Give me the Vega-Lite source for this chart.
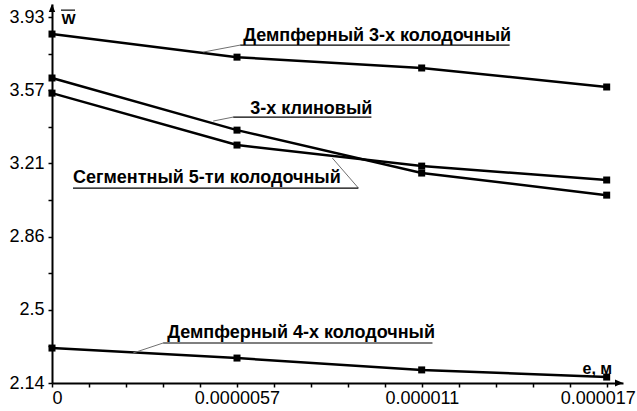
{
  "$schema": "https://vega.github.io/schema/vega-lite/v6.json",
  "width": 571,
  "height": 379,
  "autosize": {"type": "none"},
  "padding": {"left": 52, "top": 4, "right": 14, "bottom": 28},
  "background": "white",
  "config": {
    "view": {"stroke": null},
    "axis": {
      "grid": false,
      "domainColor": "black",
      "domainWidth": 2,
      "tickColor": "black",
      "tickWidth": 1.5,
      "tickSize": 4,
      "labelColor": "black",
      "labelFont": "Liberation Sans",
      "labelFontSize": 18,
      "titleColor": "black",
      "titleFont": "Liberation Sans",
      "titleFontWeight": "bold",
      "titleFontSize": 16
    }
  },
  "datasets": {
    "series": [
      {"s": "Демпферный 3-х колодочный", "x": 0, "y": 3.847},
      {"s": "Демпферный 3-х колодочный", "x": 0.00000567, "y": 3.734},
      {"s": "Демпферный 3-х колодочный", "x": 0.00001133, "y": 3.681},
      {"s": "Демпферный 3-х колодочный", "x": 0.000017, "y": 3.588},
      {"s": "3-х клиновый", "x": 0, "y": 3.632},
      {"s": "3-х клиновый", "x": 0.00000567, "y": 3.377},
      {"s": "3-х клиновый", "x": 0.00001133, "y": 3.167},
      {"s": "3-х клиновый", "x": 0.000017, "y": 3.059},
      {"s": "Сегментный 5-ти колодочный", "x": 0, "y": 3.558},
      {"s": "Сегментный 5-ти колодочный", "x": 0.00000567, "y": 3.304},
      {"s": "Сегментный 5-ти колодочный", "x": 0.00001133, "y": 3.201},
      {"s": "Сегментный 5-ти колодочный", "x": 0.000017, "y": 3.133},
      {"s": "Демпферный 4-х колодочный", "x": 0, "y": 2.311},
      {"s": "Демпферный 4-х колодочный", "x": 0.00000567, "y": 2.262},
      {"s": "Демпферный 4-х колодочный", "x": 0.00001133, "y": 2.204},
      {"s": "Демпферный 4-х колодочный", "x": 0.000017, "y": 2.169}
    ],
    "notes": [
      {"label": "Демпферный 3-х колодочный", "x": 0.000005861, "y": 3.8126},
      {"label": "3-х клиновый", "x": 0.000006076, "y": 3.4556},
      {"label": "Сегментный 5-ти колодочный", "x": 0.000000644, "y": 3.118},
      {"label": "Демпферный 4-х колодочный", "x": 0.000003529, "y": 2.36}
    ],
    "leaders": [
      {"x": 0.000004634, "y": 3.7588, "x2": 0.000005769, "y2": 3.793},
      {"x": 0.00000494, "y": 3.4214, "x2": 0.000005554, "y2": 3.4409},
      {"x": 0.00000939, "y": 3.0937, "x2": 0.000008592, "y2": 3.2404},
      {"x": 0.000002486, "y": 2.2867, "x2": 0.000003406, "y2": 2.3356}
    ],
    "underlines": [
      {"x": 0.000005769, "y": 3.793, "x2": 0.000014024, "y2": 3.793},
      {"x": 0.000005554, "y": 3.4409, "x2": 0.000009789, "y2": 3.4409},
      {"x": 0.000000644, "y": 3.0937, "x2": 0.00000939, "y2": 3.0937},
      {"x": 0.000003406, "y": 2.3356, "x2": 0.000011661, "y2": 2.3356},
      {"x": 0.000000276, "y": 3.964, "x2": 0.000000706, "y2": 3.964}
    ],
    "arrowUp": [{"x": 0, "y": 3.994}],
    "arrowRight": [{"x": 0.0000175, "y": 2.14}]
  },
  "encoding": {
    "x": {
      "field": "x",
      "type": "quantitative",
      "scale": {"domain": [0, 0.0000175], "nice": false, "zero": false},
      "axis": {
        "title": "е, м",
        "titleX": 530,
        "titleY": -10,
        "titleAlign": "left",
        "titleBaseline": "alphabetic",
        "values": [0, 0.0000011333, 0.0000022667, 0.0000034, 0.0000045333, 0.0000056667, 0.0000068, 0.0000079333, 0.0000090667, 0.0000102, 0.0000113333, 0.0000124667, 0.0000136, 0.0000147333, 0.0000158667, 0.000017],
        "labelExpr": "indexof(['0','0.0000057','0.000011','0.000017'], format(datum.value, '.2~g')) >= 0 ? format(datum.value, '.2~g') : ''",
        "labelPadding": 2,
        "labelOffset": {"condition": {"test": "datum.value > 0.0000165", "value": -9}, "value": 0}
      }
    },
    "y": {
      "field": "y",
      "type": "quantitative",
      "scale": {"domain": [2.14, 3.994], "nice": false, "zero": false},
      "axis": {
        "title": "W",
        "titleAngle": 0,
        "titleX": 9,
        "titleY": 19,
        "titleAlign": "left",
        "titleBaseline": "alphabetic",
        "titleFontSize": 15,
        "values": [2.14, 2.319, 2.498, 2.677, 2.856, 3.035, 3.214, 3.393, 3.572, 3.751, 3.93],
        "labelExpr": "indexof(['2.14','2.5','2.86','3.21','3.57','3.93'], format(datum.value, '.3~g')) >= 0 ? format(datum.value, '.3~g') : ''",
        "labelPadding": 4
      }
    }
  },
  "layer": [
    {
      "data": {"name": "series"},
      "mark": {"type": "line", "color": "black", "strokeWidth": 2.5, "interpolate": "linear"},
      "encoding": {"detail": {"field": "s"}}
    },
    {
      "data": {"name": "series"},
      "mark": {"type": "point", "shape": "square", "filled": true, "color": "black", "opacity": 1, "size": 49}
    },
    {
      "data": {"name": "leaders"},
      "mark": {"type": "rule", "color": "#707070", "strokeWidth": 1},
      "encoding": {"x2": {"field": "x2"}, "y2": {"field": "y2"}}
    },
    {
      "data": {"name": "underlines"},
      "mark": {"type": "rule", "color": "black", "strokeWidth": 1.2},
      "encoding": {"x2": {"field": "x2"}, "y2": {"field": "y2"}}
    },
    {
      "data": {"name": "notes"},
      "mark": {"type": "text", "align": "left", "baseline": "alphabetic", "font": "Liberation Sans", "fontWeight": "bold", "fontSize": 18, "color": "black"},
      "encoding": {"text": {"field": "label"}}
    },
    {
      "data": {"name": "arrowUp"},
      "mark": {"type": "point", "shape": "M0,0L-0.8,2L0.8,2Z", "filled": true, "color": "black", "opacity": 1, "size": 64}
    },
    {
      "data": {"name": "arrowRight"},
      "mark": {"type": "point", "shape": "M0,0L-2,-0.85L-2,0.85Z", "filled": true, "color": "black", "opacity": 1, "size": 64}
    }
  ]
}
